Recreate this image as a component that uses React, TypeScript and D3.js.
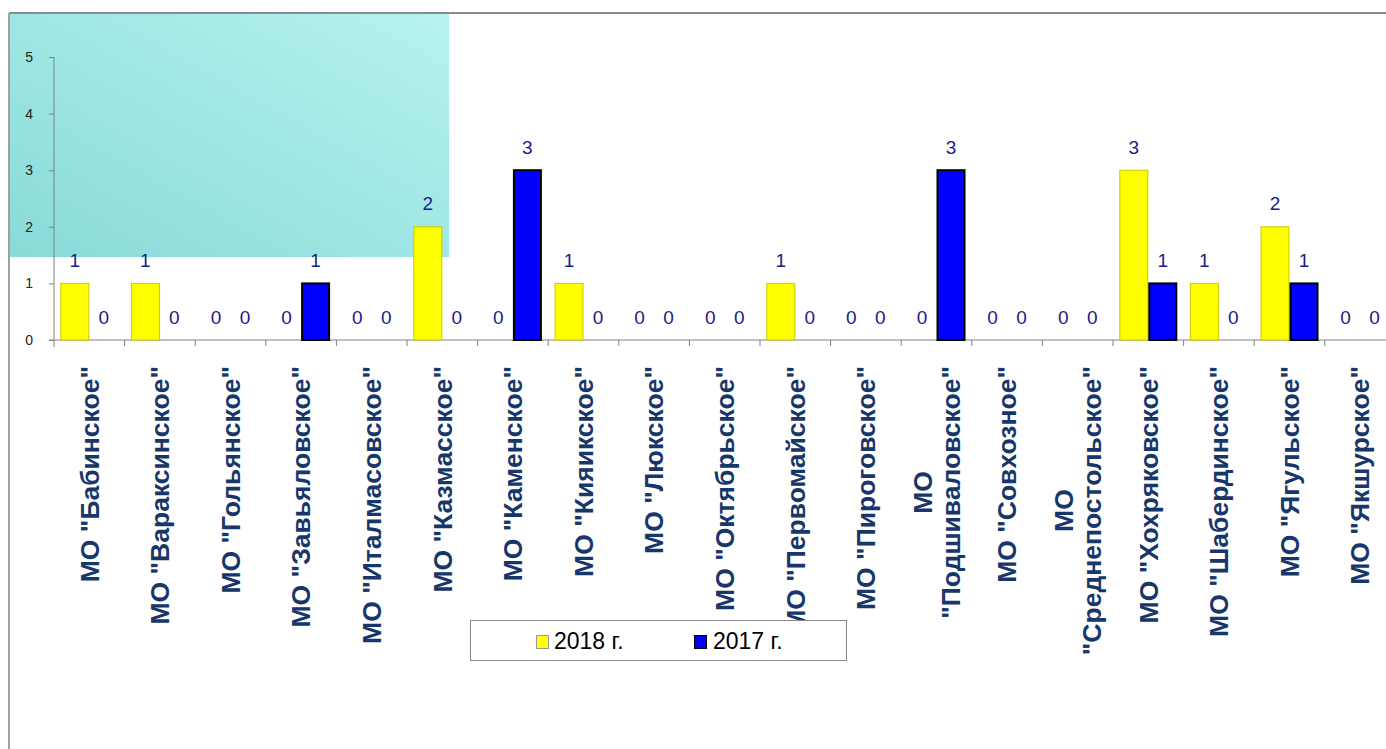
import React, { useEffect, useRef } from 'react';
import * as d3 from 'd3';

const categories = [
  'МО "Бабинское"', 'МО "Вараксинское"', 'МО "Гольянское"', 'МО "Завьяловское"',
  'МО "Италмасовское"', 'МО "Казмасское"', 'МО "Каменское"', 'МО "Кияикское"',
  'МО "Люкское"', 'МО "Октябрьское"', 'МО "Первомайское"', 'МО "Пироговское"',
  'МО\n"Подшиваловское"', 'МО "Совхозное"', 'МО\n"Среднепостольское"', 'МО "Хохряковское"',
  'МО "Шабердинское"', 'МО "Ягульское"', 'МО "Якшурское"',
];
const seriesNames = ['2018 г.', '2017 г.'];
const values2018 = [1, 1, 0, 0, 0, 2, 0, 1, 0, 0, 1, 0, 0, 0, 0, 3, 1, 2, 0];
const values2017 = [0, 0, 0, 1, 0, 0, 3, 0, 0, 0, 0, 0, 3, 0, 0, 1, 0, 1, 0];
const yTicks = [0, 1, 2, 3, 4, 5];

const W = 1386;
const H = 749;

export default function App() {
  const ref = useRef<SVGSVGElement>(null);

  useEffect(() => {
    const svg = d3.select(ref.current);
    svg.selectAll('*').remove();

    const fills = ['#ffff00', '#0000ff'];
    const strokes = ['#c9c900', '#000000'];
    const strokeW = [1, 2];
    const seriesValues = [values2018, values2017];

    const x0 = 54;
    const band = 70.6;
    const x = d3.scaleBand<string>().domain(categories).range([x0, x0 + band * categories.length]).padding(0);
    const xs = d3.scaleBand<string>().domain(seriesNames).range([6.3, x.bandwidth() - 6.3]).padding(0);
    const y = d3.scaleLinear().domain([0, 5]).range([340, 57]);

    // background gradient box
    const defs = svg.append('defs');
    const grad = defs.append('linearGradient').attr('id', 'cyanGrad')
      .attr('x1', '0%').attr('y1', '100%').attr('x2', '100%').attr('y2', '0%');
    grad.append('stop').attr('offset', '0%').attr('stop-color', '#88dbd8');
    grad.append('stop').attr('offset', '100%').attr('stop-color', '#b6f2f0');
    svg.append('rect').attr('x', 9).attr('y', 13).attr('width', 440).attr('height', 244).attr('fill', 'url(#cyanGrad)');

    // frame
    svg.append('line').attr('x1', 9).attr('x2', W).attr('y1', 13).attr('y2', 13).attr('stroke', '#8a8a8a').attr('stroke-width', 2);
    svg.append('line').attr('x1', 9).attr('x2', 9).attr('y1', 13).attr('y2', H).attr('stroke', '#a0a0a0').attr('stroke-width', 2);

    // y axis
    const yAxis = d3.axisLeft(y).tickValues(yTicks).tickFormat(d3.format('d')).tickSize(5).tickPadding(16);
    const gy = svg.append('g').attr('transform', `translate(${x0},0)`).call(yAxis);
    gy.select('.domain').attr('stroke', '#808080').attr('d', `M0,${y(5)}V${y(0) + 7}`);
    gy.selectAll('.tick line').attr('stroke', '#808080');
    gy.selectAll('.tick text').attr('fill', '#222').attr('font-size', 14)
      .attr('font-family', 'Liberation Sans, Arial, sans-serif');

    // x axis line and ticks
    svg.append('line').attr('x1', x0 - 5).attr('x2', W).attr('y1', y(0)).attr('y2', y(0)).attr('stroke', '#808080');
    svg.append('g').selectAll('line').data(categories).join('line')
      .attr('x1', (d) => (x(d) as number) + x.bandwidth())
      .attr('x2', (d) => (x(d) as number) + x.bandwidth())
      .attr('y1', y(0)).attr('y2', y(0) + 6).attr('stroke', '#808080');

    // bars
    seriesNames.forEach((s, si) => {
      const vals = seriesValues[si];
      const g = svg.append('g');
      g.selectAll('rect').data(categories.filter((_, i) => vals[i] > 0)).join('rect')
        .attr('x', (d) => (x(d) as number) + (xs(s) as number) + strokeW[si] / 2)
        .attr('y', (d) => y(vals[categories.indexOf(d)]))
        .attr('width', xs.bandwidth() - strokeW[si])
        .attr('height', (d) => y(0) - y(vals[categories.indexOf(d)]))
        .attr('fill', fills[si]).attr('stroke', strokes[si]).attr('stroke-width', strokeW[si]);
    });

    // data labels
    seriesNames.forEach((s, si) => {
      const vals = seriesValues[si];
      svg.append('g').selectAll('text').data(categories).join('text')
        .attr('x', (d) => (x(d) as number) + (xs(s) as number) + xs.bandwidth() / 2)
        .attr('y', (d, i) => y(vals[i]) - 23)
        .attr('dy', '0.35em')
        .attr('text-anchor', 'middle')
        .attr('font-family', 'Liberation Sans, Arial, sans-serif')
        .attr('font-size', 19)
        .attr('fill', '#1c1c86')
        .text((d, i) => String(vals[i]));
    });

    // category labels
    const lineGap = 28;
    const labelTop = 366;
    const lg = svg.append('g');
    categories.forEach((c) => {
      const lines = c.split('\n');
      const cx = (x(c) as number) + x.bandwidth() / 2;
      const t = lg.append('text')
        .attr('font-family', 'Liberation Sans, Arial, sans-serif')
        .attr('font-weight', 'bold')
        .attr('font-size', 26.5)
        .attr('fill', '#17366a')
        .attr('text-anchor', 'end')
        .attr('transform', `translate(${cx},${labelTop}) rotate(-90)`);
      const tspans = lines.map((ln, k) =>
        t.append('tspan').attr('x', 0).attr('y', (k - (lines.length - 1) / 2) * lineGap).attr('dy', '0.35em').text(ln));
      if (lines.length > 1) {
        const lens = tspans.map((ts) => (ts.node() as SVGTSpanElement).getComputedTextLength());
        const maxL = Math.max(...lens);
        t.attr('text-anchor', 'middle');
        tspans.forEach((ts) => ts.attr('x', -maxL / 2));
      }
    });

    // legend
    const leg = svg.append('g');
    leg.append('rect').attr('x', 470.5).attr('y', 620.5).attr('width', 376).attr('height', 40)
      .attr('fill', '#fff').attr('stroke', '#888').attr('stroke-width', 1);
    const legX = [536, 694];
    const legTextX = [554, 713];
    seriesNames.forEach((s, si) => {
      leg.append('rect').attr('x', legX[si] + 0.5).attr('y', 635.5).attr('width', 12).attr('height', 13)
        .attr('fill', fills[si]).attr('stroke', si === 0 ? '#999' : '#000').attr('stroke-width', 1);
      leg.append('text').attr('x', legTextX[si]).attr('y', 641).attr('dy', '0.35em')
        .attr('font-family', 'Liberation Sans, Arial, sans-serif').attr('font-size', 23)
        .attr('fill', '#000').text(s);
    });
  }, []);

  return (
    <svg ref={ref} width={W} height={H}
      style={{ position: 'absolute', left: 0, top: 0, background: '#fff', display: 'block' }} />
  );
}
